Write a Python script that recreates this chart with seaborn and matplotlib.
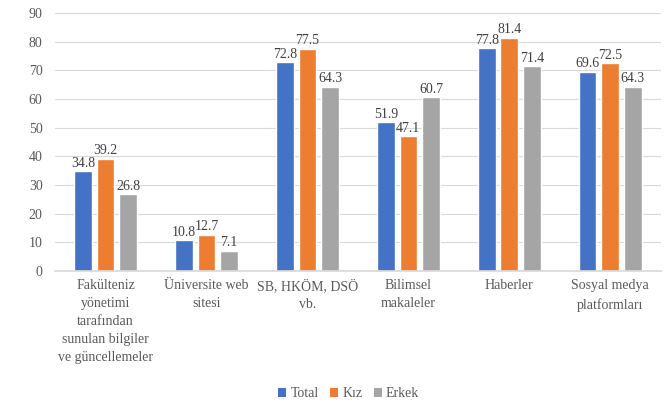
import matplotlib
matplotlib.use("Agg")
import matplotlib.pyplot as plt
import seaborn as sns
import pandas as pd
from matplotlib.patches import Patch

categories = [
    "Fakülteniz\nyönetimi\ntarafından\nsunulan bilgiler\nve güncellemeler",
    "Üniversite web\nsitesi",
    "SB, HKÖM, DSÖ\nvb.",
    "Bilimsel\nmakaleler",
    "Haberler",
    "Sosyal medya\nplatformları",
]
series = ["Total", "Kız", "Erkek"]
total = [34.8, 10.8, 72.8, 51.9, 77.8, 69.6]
kiz = [39.2, 12.7, 77.5, 47.1, 81.4, 72.5]
erkek = [26.8, 7.1, 64.3, 60.7, 71.4, 64.3]
colors = ["#4472C4", "#ED7D31", "#A5A5A5"]

rows = []
for s, vals in zip(series, [total, kiz, erkek]):
    for c, v in zip(categories, vals):
        rows.append({"cat": c, "series": s, "value": v})
df = pd.DataFrame(rows)

sns.set_theme(style="white")
plt.rcParams["font.family"] = ["Liberation Serif", "DejaVu Serif"]
txt = "#595959"

fig = plt.figure(figsize=(6.64, 4.07), dpi=100)
ax = fig.add_axes([0.083, 0.334, 0.912, 0.634])
sns.barplot(data=df, x="cat", y="value", hue="series", order=categories,
            hue_order=series, palette=colors, width=0.67, gap=0.22,
            saturation=1, ax=ax, legend=False)
for cont in ax.containers:
    ax.bar_label(cont, labels=[f"{v:.1f}" for v in cont.datavalues],
                 padding=1, fontsize=10, color="#404040")

ax.set_ylim(0, 90)
ax.set_yticks(range(0, 91, 10))
ax.set_xlim(-0.5, 5.5)
ax.yaxis.grid(True, color="#D9D9D9", linewidth=0.8)
ax.set_axisbelow(True)
for s in ["top", "right", "left"]:
    ax.spines[s].set_visible(False)
ax.spines["bottom"].set_color("#D9D9D9")
ax.set_xlabel("")
ax.set_ylabel("")
ax.tick_params(axis="both", length=0, labelsize=10, colors=txt, pad=6)
ax.tick_params(axis="y", pad=9)
for lab in ax.get_xticklabels():
    lab.set_linespacing(1.5)
    lab.set_verticalalignment("top")

handles = [Patch(facecolor=c, edgecolor="none", label=s) for s, c in zip(series, colors)]
fig.legend(handles=handles, loc="center", bbox_to_anchor=(0.525, 0.032), ncol=3,
           frameon=False, fontsize=10, handlelength=0.6, handleheight=0.6,
           handletextpad=0.3, columnspacing=0.8, labelcolor=txt)

fig.savefig("out.png", dpi=100)
